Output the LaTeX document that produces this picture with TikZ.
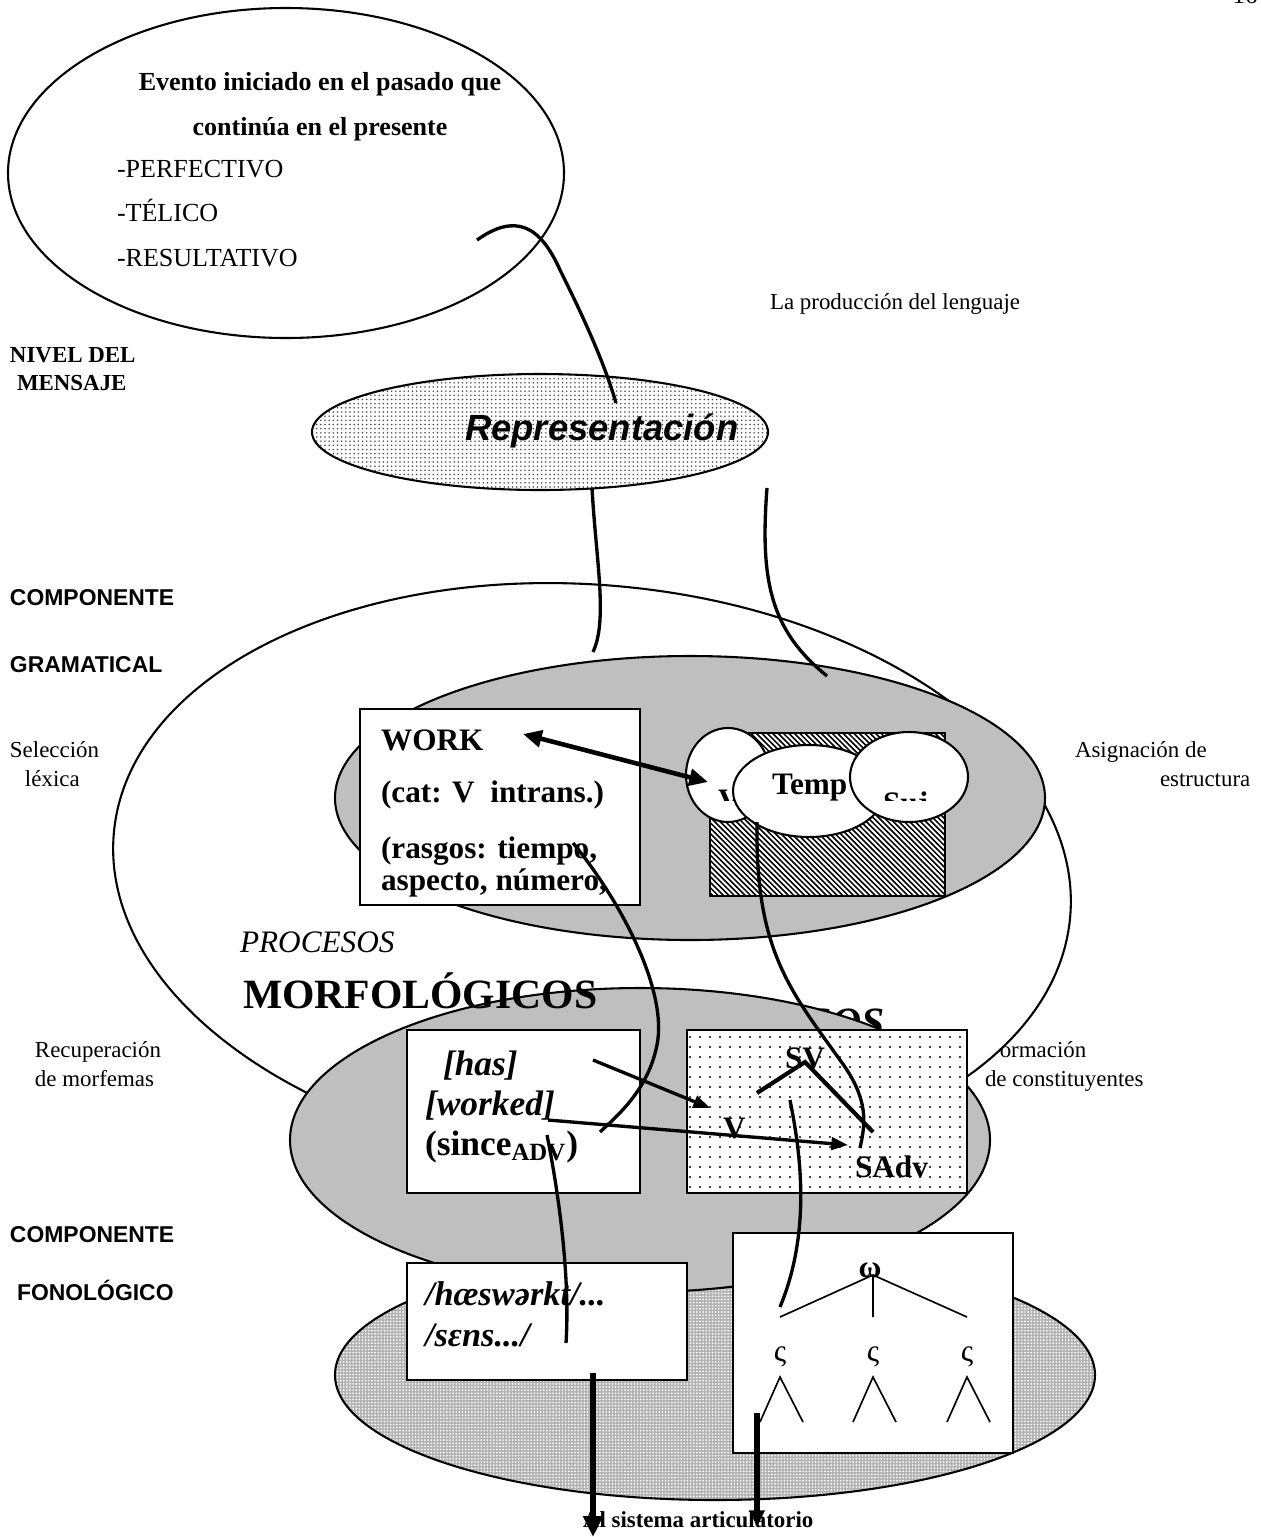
\documentclass[tikz,border=0pt]{standalone}
\usepackage{fontspec}
\setmainfont{Liberation Serif}
\newfontfamily\arialf{Liberation Sans}
\usetikzlibrary{patterns,arrows.meta,shapes.geometric}
\pgfdeclarepatternformonly{repdots}{\pgfqpoint{-1pt}{-1pt}}{\pgfqpoint{1pt}{1pt}}{\pgfqpoint{2pt}{2pt}}{\pgfpathcircle{\pgfqpoint{0pt}{0pt}}{0.42pt}\pgfusepath{fill}}
\pgfdeclarepatternformonly{boxdots}{\pgfqpoint{-1pt}{-1pt}}{\pgfqpoint{1pt}{1pt}}{\pgfqpoint{4.8pt}{4.8pt}}{\pgfpathcircle{\pgfqpoint{0pt}{0pt}}{0.55pt}\pgfusepath{fill}}
\pgfdeclarepatternformonly{densedots}{\pgfqpoint{-1pt}{-1pt}}{\pgfqpoint{1pt}{1pt}}{\pgfqpoint{1.5pt}{1.5pt}}{\pgfpathcircle{\pgfqpoint{0pt}{0pt}}{0.45pt}\pgfusepath{fill}}
\pgfdeclarepatternformonly{hatchnw}{\pgfqpoint{-1pt}{-1pt}}{\pgfqpoint{4pt}{4pt}}{\pgfqpoint{2.6pt}{2.6pt}}{\pgfsetlinewidth{0.75pt}\pgfpathmoveto{\pgfqpoint{0pt}{2.6pt}}\pgfpathlineto{\pgfqpoint{2.7pt}{-0.1pt}}\pgfusepath{stroke}}
\begin{document}
\begin{tikzpicture}[x=0.48pt,y=-0.48pt,
  every node/.style={inner sep=0pt,outer sep=0pt},
  ell/.style={ellipse,draw,line width=1pt,inner sep=0pt},
  bx/.style={draw,line width=0.9pt,fill=white,anchor=north west},
  conn/.style={line width=1.6pt},
  lbl/.style={font=\fontsize{11}{13}\selectfont,anchor=base west},
  bl/.style={font=\bfseries\fontsize{11}{13}\selectfont,anchor=base west},
  al/.style={font=\arialf\bfseries\fontsize{11}{13}\selectfont,anchor=base west},
  big/.style={font=\bfseries\fontsize{15}{18}\selectfont,anchor=base west},
  ital/.style={font=\bfseries\itshape\fontsize{17}{20}\selectfont,anchor=base west},
]
\useasboundingbox (0,0) rectangle (1261,1537);

% page number (cut at top, as in the reference)
\node[font=\fontsize{12}{14}\selectfont,anchor=base] (pg) at (1245,3) {16};

% side labels
\node[lbl] (prod) at (770,309) {La producción del lenguaje};
\node[bl] (niv1) at (10,362) {NIVEL DEL};
\node[bl] (niv2) at (17,390) {MENSAJE};
\node[al] (cg1) at (10,605) {COMPONENTE};
\node[al] (cg2) at (10,672) {GRAMATICAL};
\node[lbl] (sel1) at (10,757) {Selección};
\node[lbl] (sel2) at (25,786) {léxica};
\node[lbl] (asg1) at (1075,757) {Asignación de};
\node[lbl] (asg2) at (1160,786) {estructura};
\node[lbl] (rec1) at (35,1057) {Recuperación};
\node[lbl] (rec2) at (35,1086) {de morfemas};
\node[lbl] (for1) at (987,1057) {Formación};
\node[lbl] (for2) at (985,1086) {de constituyentes};
\node[al] (cf1) at (10,1242) {COMPONENTE};
\node[al] (cf2) at (17,1300) {FONOLÓGICO};

% message ellipse
\node[ell,minimum width=556*0.48pt,minimum height=330*0.48pt] (msg) at (286,173) {};
\node[font=\bfseries\fontsize{12.5}{15}\selectfont,anchor=base] (ev1) at (320,90) {Evento iniciado en el pasado que};
\node[font=\bfseries\fontsize{12.5}{15}\selectfont,anchor=base] (ev2) at (320,135) {continúa en el presente};
\node[font=\fontsize{12.5}{15}\selectfont,anchor=base west] (f1) at (117,177) {-PERFECTIVO};
\node[font=\fontsize{12.5}{15}\selectfont,anchor=base west] (f2) at (117,221) {-TÉLICO};
\node[font=\fontsize{12.5}{15}\selectfont,anchor=base west] (f3) at (117,266) {-RESULTATIVO};

% representation ellipse
\node[ell,preaction={fill=white},pattern=repdots,pattern color=black!70,minimum width=456*0.48pt,minimum height=116*0.48pt] (rep) at (540,432) {};
\node[font=\arialf\bfseries\itshape\fontsize{17.5}{20}\selectfont,anchor=base west] (reptxt) at (465,440) {Representación};

% grammatical component
\node[ell,fill=white,rotate=-5,minimum width=960*0.48pt,minimum height=580*0.48pt] (gram) at (592,875) {};
\node[ell,fill=black!25,minimum width=710*0.48pt,minimum height=284*0.48pt] (lex) at (690,798) {};

\node[bx,minimum width=280*0.48pt,minimum height=196*0.48pt] (work) at (360,709) {};
\node[big] (w1) at (381,750) {WORK};
\node[big] (w2) at (381,802) {(cat: V\ \ intrans.)};
\node[big] (w3) at (381,858) {(rasgos: tiempo,};
\node[big] (w4) at (381,890) {aspecto, número,};

\node[draw,line width=0.9pt,anchor=north west,preaction={fill=white},pattern=hatchnw,minimum width=235*0.48pt,minimum height=163*0.48pt] (hatch) at (710,733) {};
\node[ell,fill=white,minimum width=84*0.48pt,minimum height=94*0.48pt] (ev) at (728,775) {};
\begin{scope}
\clip (690,700) rectangle (1000,800);
\node[big] (vtxt) at (718,810) {V};
\end{scope}
\node[ell,fill=white,minimum width=152*0.48pt,minimum height=92*0.48pt] (temp) at (809,791) {};
\node[big] (temptxt) at (772,794) {Temp};
\node[ell,fill=white,minimum width=118*0.48pt,minimum height=90*0.48pt] (suj) at (909,777) {};
\begin{scope}
\clip (850,700) rectangle (1000,800);
\node[big] (sujtxt) at (883,813) {Suj};
\end{scope}

\node[font=\itshape\fontsize{15}{18}\selectfont,anchor=base west] (proc1) at (240,952) {PROCESOS};
\node[font=\bfseries\itshape\fontsize{20}{24}\selectfont,anchor=base east] (proc2) at (885,1036) {PROCESOS};

% phonological ellipse and morphological ellipse
\node[ell,preaction={fill=black!30},pattern=densedots,pattern color=white,minimum width=760*0.48pt,minimum height=250*0.48pt] (fon) at (715,1375) {};
\node[ell,fill=black!25,minimum width=700*0.48pt,minimum height=304*0.48pt] (mor) at (640,1140) {};
\node[font=\bfseries\fontsize{20}{24}\selectfont,anchor=base west] (morf) at (243,1008) {MORFOLÓGICOS};

% boxes
\node[bx,minimum width=233*0.48pt,minimum height=163*0.48pt] (has) at (407,1030) {};
\node[ital] (h1) at (443,1075) {[has]};
\node[ital] (h2) at (425,1115) {[worked]};
\node[font=\bfseries\fontsize{17}{20}\selectfont,anchor=base west] (h3) at (425,1155) {(since\textsubscript{ADV})};

\node[draw,line width=0.9pt,anchor=north west,preaction={fill=white},pattern=boxdots,minimum width=280*0.48pt,minimum height=163*0.48pt] (sv) at (687,1030) {};
\node[big] (svt) at (785,1068) {SV};
\node[big] (vt) at (723,1138) {V};
\node[big] (sadv) at (855,1177) {SAdv};
\coordinate (svl) at (757,1093);
\coordinate (sva) at (805,1062);
\coordinate (svr) at (873,1132);
\draw[line width=2pt] (svl) -- (sva) -- (svr);

\node[bx,minimum width=280*0.48pt,minimum height=117*0.48pt] (phon) at (407,1263) {};
\node[font=\bfseries\itshape\fontsize{16.5}{20}\selectfont,anchor=base west] (p1) at (425,1305) {/hæswərkt/...};
\node[font=\bfseries\itshape\fontsize{16.5}{20}\selectfont,anchor=base west] (p2) at (425,1346) {/sɛns.../};

\node[bx,minimum width=280*0.48pt,minimum height=220*0.48pt] (tree) at (733,1233) {};
\node[font=\bfseries\fontsize{15}{18}\selectfont] (om) at (870,1270) {ω};
\node[font=\fontsize{15}{18}\selectfont] (s1) at (780,1357) {ς};
\node[font=\fontsize{15}{18}\selectfont] (s2) at (873,1357) {ς};
\node[font=\fontsize{15}{18}\selectfont] (s3) at (967,1357) {ς};
\coordinate (omb) at (873,1275);
\coordinate (l1) at (780,1317);
\coordinate (l2) at (873,1317);
\coordinate (l3) at (967,1317);
\draw[line width=0.8pt] (l1) -- (omb) -- (l3) (omb) -- (l2);
\foreach \c in {780,873,967}{
  \draw[line width=0.8pt] (\c-20,1422) -- (\c,1377) -- (\c+23,1422);
}

% connectors
\coordinate (c1a) at (477,240);
\coordinate (c1b) at (616,403);
\draw[conn] (c1a) .. controls (515,213) and (540,225) .. (560,270) .. controls (585,320) and (605,365) .. (c1b);
\coordinate (c2a) at (592,488);
\coordinate (c2b) at (593,652);
\draw[conn] (c2a) .. controls (596,560) and (608,620) .. (c2b);
\coordinate (c3a) at (767,488);
\coordinate (c3b) at (827,676);
\draw[conn] (c3a) .. controls (760,580) and (770,630) .. (c3b);

\coordinate (wk) at (523,734);
\coordinate (vv) at (708,782);
\draw[line width=2.2pt,{Triangle[length=9pt,width=8pt]}-{Triangle[length=9pt,width=8pt]}] (wk) -- (vv);

\coordinate (tie) at (573,843);
\coordinate (tie2) at (600,1132);
\draw[conn] (tie) .. controls (620,900) and (668,990) .. (657,1045) .. controls (648,1090) and (618,1115) .. (tie2);

\coordinate (tp) at (757,822);
\coordinate (tp2) at (860,1148);
\draw[conn] (tp) .. controls (755,950) and (790,990) .. (840,1060) .. controls (870,1100) and (865,1125) .. (tp2);

\coordinate (hasr) at (593,1060);
\coordinate (vin) at (710,1108);
\draw[conn,-{Triangle[length=8pt,width=6pt]}] (hasr) -- (vin);
\coordinate (wkr) at (548,1120);
\coordinate (sadvin) at (848,1145);
\draw[conn,-{Triangle[length=8pt,width=6pt]}] (wkr) -- (sadvin);

\coordinate (sva2) at (790,1100);
\coordinate (trl) at (780,1307);
\draw[conn] (sva2) .. controls (800,1150) and (812,1230) .. (trl);

\coordinate (sin) at (547,1135);
\coordinate (sin2) at (566,1343);
\draw[conn] (sin) .. controls (560,1200) and (570,1280) .. (sin2);

\node[font=\bfseries\fontsize{11}{13}\selectfont,anchor=base west] (art) at (583,1527) {Al sistema articulatorio};
\coordinate (ph1) at (593,1373);
\coordinate (ph2) at (593,1537);
\draw[line width=2.6pt,-{Triangle[length=10pt,width=9pt]}] (ph1) -- (ph2);
\coordinate (tr1) at (757,1413);
\coordinate (tr2) at (757,1527);
\draw[line width=2.6pt,-{Triangle[length=8pt,width=7pt]}] (tr1) -- (tr2);
\end{tikzpicture}
\end{document}
